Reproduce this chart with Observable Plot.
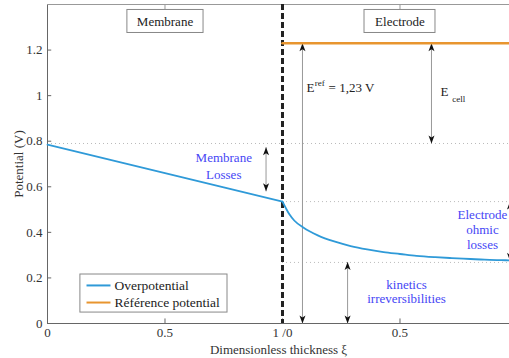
<!DOCTYPE html>
<html><head><meta charset="utf-8">
<script src="https://cdn.jsdelivr.net/npm/d3@7"></script>
<script src="https://cdn.jsdelivr.net/npm/@observablehq/plot@0.6"></script>
<style>body{margin:0;background:#fff}</style>
</head><body><div id="chart"></div>
<script>
// Overpotential curve: membrane (0..1) and electrode (drawn 1..2)
const xiMembrane = [0, 0.25, 0.5, 0.75, 1.0];
const overpotentialMembrane = [0.785, 0.722, 0.66, 0.597, 0.535];
const xiElectrode = [1.0, 1.015, 1.03, 1.05, 1.09, 1.15, 1.22, 1.29, 1.36, 1.43, 1.5, 1.57, 1.65, 1.72, 1.8, 1.86, 1.93, 1.97];
const overpotentialElectrode = [0.535, 0.505, 0.478, 0.452, 0.42, 0.387, 0.36, 0.34, 0.325, 0.313, 0.305, 0.297, 0.291, 0.287, 0.283, 0.28, 0.278, 0.277];
const refX = [1, 1.97];
const refPotential = [1.23, 1.23];
const yTicks = [0, 0.2, 0.4, 0.6, 0.8, 1, 1.2];
const yTickLabels = ["0", "0.2", "0.4", "0.6", "0.8", "1", "1.2"];
const xTicks = [0, 0.5, 1, 1.5];
const xTickLabels = ["0", "0.5", "1 /0", "0.5"];
// annotation arrows: x, from, to
const arrowX = [0.93, 1.085, 1.634, 1.277, 1.968];
const arrowFrom = [0.774, 0.0, 0.79, 0.0, 0.535];
const arrowTo = [0.58, 1.23, 1.23, 0.27, 0.275];
const dottedLevels = [{y: 0.79, x1: 0, x2: 1.97}, {y: 0.535, x1: 1, x2: 1.97}, {y: 0.268, x1: 1, x2: 1.97}];

const curveM = xiMembrane.map((x, i) => ({x, y: overpotentialMembrane[i]}));
const curveE = xiElectrode.map((x, i) => ({x, y: overpotentialElectrode[i]}));
const ref = refX.map((x, i) => ({x, y: refPotential[i]}));
const arrows = arrowX.map((x, i) => ({x, y1: arrowFrom[i], y2: arrowTo[i]}));
const heads = arrows.flatMap(a => [
  {x: a.x, y: a.y2, r: a.y2 > a.y1 ? 0 : 180},
  {x: a.x, y: a.y1, r: a.y1 > a.y2 ? 0 : 180}
]);
const stealth = {draw(ctx) { ctx.moveTo(0, 0); ctx.lineTo(3, 8); ctx.lineTo(0, 6); ctx.lineTo(-3, 8); ctx.closePath(); }};

const blue = "#2f9ad8", orange = "#e8952f", txtBlue = "#4646f5", font = "Liberation Serif";

const plot = Plot.plot({
  width: 509, height: 358,
  marginLeft: 47, marginRight: 0, marginTop: 4, marginBottom: 35,
  style: {fontSize: "13px", color: "#333", background: "#fff"},
  x: {domain: [0, 1.966]},
  y: {domain: [0, 1.4]},
  marks: [
    Plot.ruleY(dottedLevels, {y: "y", x1: "x1", x2: "x2", stroke: "#bbb", strokeDasharray: "1,3"}),
    Plot.ruleX([0], {stroke: "#666"}),
    Plot.ruleY([0], {stroke: "#666"}),
    Plot.ruleY([1.4], {stroke: "#999"}),
    Plot.ruleY(yTicks, {x1: 0, x2: 0.018, stroke: "#666"}),
    Plot.ruleX(xTicks.slice(1), {y1: 0, y2: 0.02, stroke: "#666"}),
    Plot.ruleX([0.5, 1.5], {y1: 1.4, y2: 1.376, stroke: "#999"}),
    Plot.axisY(yTicks, {tickSize: 0, tickPadding: 5, tickFormat: (d, i) => yTickLabels[i], fontSize: 13, fontFamily: font, label: "Potential (V)", labelAnchor: "center", labelOffset: 34, labelArrow: false}),
    Plot.axisX(xTicks, {tickSize: 0, tickPadding: 4, tickFormat: (d, i) => xTickLabels[i], fontSize: 13, fontFamily: font, label: "Dimensionless thickness ξ", labelAnchor: "center", labelOffset: 30, labelArrow: false}),
    Plot.rect([{x1: 0.34, x2: 0.664}, {x1: 1.349, x2: 1.651}], {x1: "x1", x2: "x2", y1: 1.275, y2: 1.376, fill: "#fff", stroke: "#888"}),
    Plot.text(["Membrane", "Electrode"], {x: [0.5, 1.5], y: 1.325, text: d => d, fontSize: 13, fontFamily: font, fill: "#222"}),
    Plot.ruleX([1], {stroke: "#222", strokeWidth: 3, strokeDasharray: "6,3"}),
    Plot.link(arrows, {x1: "x", x2: "x", y1: "y1", y2: "y2", stroke: "#999"}),
    Plot.dot(heads, {x: "x", y: "y", rotate: "r", symbol: stealth, fill: "#111", stroke: "none"}),
    Plot.line(ref, {x: "x", y: "y", stroke: orange, strokeWidth: 2.5}),
    Plot.line(curveM, {x: "x", y: "y", stroke: blue, strokeWidth: 1.8}),
    Plot.line(curveE, {x: "x", y: "y", stroke: blue, strokeWidth: 1.8, curve: "monotone-x"}),
    Plot.text(["E"], {x: 1.102, y: 1.033, text: d => d, textAnchor: "start", fontSize: 13, fontFamily: font, fill: "#222"}),
    Plot.text(["ref"], {x: 1.137, y: 1.057, text: d => d, textAnchor: "start", fontSize: 9, fontFamily: font, fill: "#222"}),
    Plot.text(["= 1,23 V"], {x: 1.196, y: 1.033, text: d => d, textAnchor: "start", fontSize: 13, fontFamily: font, fill: "#222"}),
    Plot.text(["E"], {x: 1.672, y: 1.018, text: d => d, textAnchor: "start", fontSize: 13, fontFamily: font, fill: "#222"}),
    Plot.text(["cell"], {x: 1.722, y: 0.985, text: d => d, textAnchor: "start", fontSize: 9, fontFamily: font, fill: "#222"}),
    Plot.text(["Membrane", "Losses"], {x: 0.75, y: [0.725, 0.652], text: d => d, fontSize: 13, fontFamily: font, fill: txtBlue}),
    Plot.text(["Electrode", "ohmic", "losses"], {x: 1.851, y: [0.475, 0.41, 0.347], text: d => d, fontSize: 13, fontFamily: font, fill: txtBlue}),
    Plot.text(["kinetics", "irreversibilities"], {x: 1.528, y: [0.171, 0.11], text: d => d, fontSize: 13, fontFamily: font, fill: txtBlue}),
    Plot.rect([{x1: 0.14, x2: 0.766}], {x1: "x1", x2: "x2", y1: 0.048, y2: 0.215, fill: "#fff", stroke: "#888"}),
    Plot.link([{y: 0.167, c: blue}, {y: 0.092, c: orange}], {x1: 0.166, x2: 0.268, y1: "y", y2: "y", stroke: "c", strokeWidth: 2}),
    Plot.text(["Overpotential", "Référence potential"], {x: 0.285, y: [0.167, 0.092], text: d => d, textAnchor: "start", fontSize: 13.5, fontFamily: font, fill: "#222"})
  ]
});
document.getElementById("chart").appendChild(plot);
</script></body></html>
